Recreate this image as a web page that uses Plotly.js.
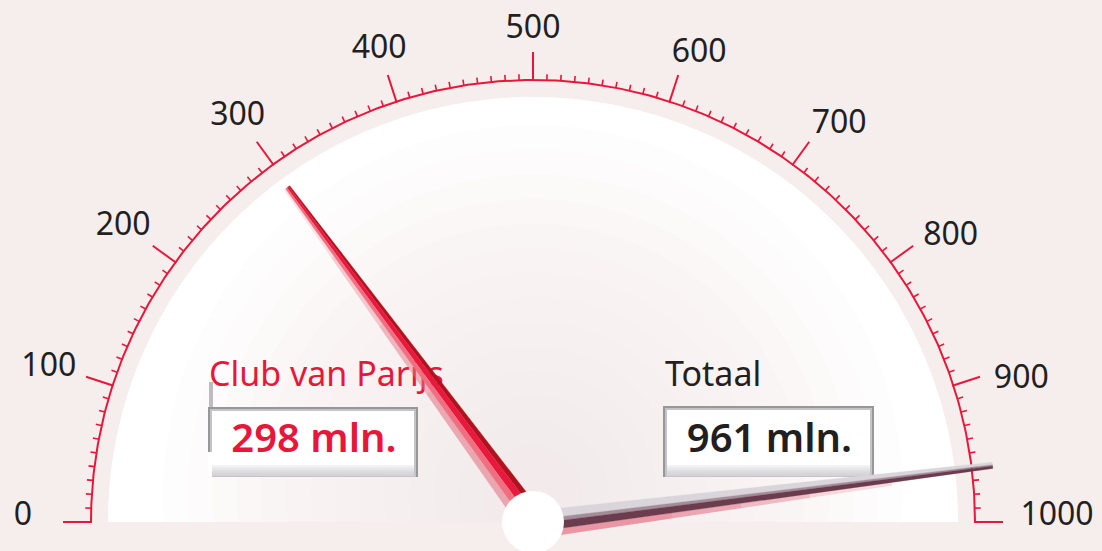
<!DOCTYPE html>
<html>
<head>
<meta charset="utf-8">
<script src="https://cdn.plot.ly/plotly-3.0.1.min.js"></script>
<style>
html,body{margin:0;padding:0;background:#f6eeed;}
#chart{width:1102px;height:551px;}
</style>
</head>
<body>
<div id="chart"></div>
<script>
// ---- data ----
const gaugeMin = 0;
const gaugeMax = 1000;
const majorTicks = [0, 100, 200, 300, 400, 500, 600, 700, 800, 900, 1000];
const majorTickLabels = ['0', '100', '200', '300', '400', '500', '600', '700', '800', '900', '1000'];
const minorStep = 10;
const seriesNames = ['Club van Parijs', 'Totaal'];
const seriesValues = [298, 961];
const valueUnit = ' mln.';

// ---- geometry / style ----
const BG = '#f6eeed';
const RED = '#e8173a';
const DARK = '#231f20';
const FONT = 'Noto Sans, Open Sans, sans-serif';
const CX = 533, CY = 522;
const R_ARC = 442, R_FACE = 425, MAJOR_LEN = 28, MINOR_LEN = 6;

function ang(v) { return Math.PI * (1 - (v - gaugeMin) / (gaugeMax - gaugeMin)); }
function polar(a, r) { return [CX + r * Math.cos(a), CY - r * Math.sin(a)]; }
function pathFrom(pts) {
  return 'M' + pts.map(p => p[0].toFixed(2) + ',' + p[1].toFixed(2)).join(' L') + ' Z';
}

const shapes = [];
// face (white semicircle)
const facePts = [];
for (let i = 0; i <= 180; i++) facePts.push(polar(Math.PI * i / 180, R_FACE));
shapes.push({type: 'path', xref: 'x', yref: 'y', layer: 'below', path: pathFrom(facePts),
  fillcolor: '#ffffff', line: {width: 0}});
// soft radial tint
const GCX = 533, GCY = 495, nLayers = 14;
for (let k = 0; k < nLayers; k++) {
  const r = 370 - k * (320 / (nLayers - 1));
  const pts = [];
  for (let i = 0; i < 120; i++) {
    const a = 2 * Math.PI * i / 120;
    pts.push([GCX + r * Math.cos(a), Math.min(CY, GCY - r * Math.sin(a))]);
  }
  shapes.push({type: 'path', xref: 'x', yref: 'y', layer: 'below', path: pathFrom(pts),
    fillcolor: 'rgba(240,225,224,0.08)', line: {width: 0}});
}

// value boxes
const boxes = [
  {x0: 208, x1: 418, y0: 407, y1: 477},
  {x0: 663, x1: 874, y0: 406, y1: 477}
];
boxes.forEach((b, i) => {
  shapes.push({type: 'rect', xref: 'x', yref: 'y', layer: 'below', x0: b.x0, x1: b.x1, y0: b.y0, y1: b.y1,
    fillcolor: '#97979a', line: {width: 0}});
  shapes.push({type: 'rect', xref: 'x', yref: 'y', layer: 'below', x0: b.x0 + 2, x1: b.x1 - 2, y0: b.y0 + 2, y1: b.y1,
    fillcolor: '#c4c4c7', line: {width: 0}});
  shapes.push({type: 'rect', xref: 'x', yref: 'y', layer: 'below', x0: b.x0 + 4, x1: b.x1 - 4, y0: b.y0 + 4, y1: b.y1 - 1,
    fillcolor: '#ffffff', line: {width: 0}});
  for (let j = 0; j < 5; j++) {
    shapes.push({type: 'rect', xref: 'x', yref: 'y', layer: 'below', x0: b.x0 + 4, x1: b.x1 - 4,
      y0: b.y1 - 12 + j * 2.2, y1: b.y1 - 1, fillcolor: 'rgba(190,190,196,0.18)', line: {width: 0}});
  }
  if (i === 0) {
    shapes.push({type: 'rect', xref: 'x', yref: 'y', layer: 'below', x0: b.x0 + 1, x1: b.x0 + 5, y0: b.y0 - 25, y1: b.y0,
      fillcolor: '#bdbdc0', line: {width: 0}});
    shapes.push({type: 'rect', xref: 'x', yref: 'y', layer: 'below', x0: b.x0, x1: b.x0 + 4, y0: b.y1 - 25, y1: b.y1,
      fillcolor: '#ffffff', line: {width: 0}});
  }
});

const traces = [];
// arc
const arcX = [], arcY = [];
for (let i = 0; i <= 360; i++) { const p = polar(Math.PI * i / 360, R_ARC); arcX.push(p[0]); arcY.push(p[1]); }
traces.push({x: arcX, y: arcY, mode: 'lines', line: {color: RED, width: 2}, hoverinfo: 'skip'});
// minor ticks
const mnX = [], mnY = [];
for (let v = gaugeMin; v <= gaugeMax; v += minorStep) {
  if (majorTicks.includes(v)) continue;
  const a = ang(v), p0 = polar(a, R_ARC), p1 = polar(a, R_ARC + MINOR_LEN);
  mnX.push(p0[0], p1[0], null); mnY.push(p0[1], p1[1], null);
}
traces.push({x: mnX, y: mnY, mode: 'lines', line: {color: RED, width: 1.6}, hoverinfo: 'skip'});
// major ticks
const mjX = [], mjY = [];
majorTicks.forEach(v => {
  const a = ang(v), p0 = polar(a, R_ARC - 1), p1 = polar(a, R_ARC + MAJOR_LEN);
  mjX.push(p0[0], p1[0], null); mjY.push(p0[1], p1[1], null);
});
traces.push({x: mjX, y: mjY, mode: 'lines', line: {color: RED, width: 2}, hoverinfo: 'skip'});
// tick labels
const tlX = [], tlY = [];
majorTicks.forEach((v, i) => {
  const isEnd = (v === gaugeMin || v === gaugeMax);
  const mid = (gaugeMin + gaugeMax) / 2;
  const a = ang(v) - ((v > mid && !isEnd) ? 1.5 * Math.PI / 180 : 0);
  const c = Math.abs(Math.cos(a));
  const extra = majorTickLabels[i].length > 3 ? 14 * c : 0;
  const r = 492 + 18 * c + extra;
  const p = polar(a, r);
  const lift = isEnd ? 8 : 0;
  tlX.push(p[0]); tlY.push(p[1] - lift + 3 * c);
});
traces.push({x: tlX, y: tlY, mode: 'text', text: majorTickLabels, textposition: 'middle center',
  textfont: {family: FONT, size: 32, color: DARK}, hoverinfo: 'skip'});

// series name labels and values
const nameColors = [RED, DARK];
const nameX = [209, 665];
traces.push({x: nameX, y: [377, 377], mode: 'text', text: seriesNames, textposition: 'middle right',
  textfont: {family: FONT, size: 34, color: nameColors}, hoverinfo: 'skip'});
traces.push({x: boxes.map(b => (b.x0 + b.x1) / 2 + 1), y: boxes.map(b => (b.y0 + b.y1) / 2),
  mode: 'text', text: seriesValues.map(v => v + valueUnit), textposition: 'middle center',
  textfont: {family: FONT, size: 40, color: nameColors, weight: 600}, hoverinfo: 'skip'});

// needles: offsets along the counter-clockwise normal, at the hub; taper scales them at the tip
const needleStyles = [
  {len: 415, taper: 0.27,
   stripes: [[-13, -7.5, '#b1121e'], [-7.5, 0, '#e8193c'], [0, 6.5, '#ee7080']],
   fadeStripe: {a: 6.5, b: 14, color: 'rgba(232,120,136,0.2)', lengths: [1.0, 0.8, 0.6, 0.4]}},
  {len: 463, taper: 0.3,
   stripes: [[2, 11, '#d9d5db'], [-2, 2, '#a38d98'], [-10, -2, '#6b3b4e']],
   fadeStripe: {a: -17, b: -10, color: 'rgba(226,100,122,0.22)', lengths: [0.78, 0.6, 0.45, 0.3]}}
];
function needlePoly(v, len, taper, rEnd, a0, b0) {
  const a = ang(v);
  const u = [Math.cos(a), -Math.sin(a)];
  const n = [-Math.sin(a), -Math.cos(a)];
  const s = 1 - (1 - taper) * rEnd / len;
  const P = (r, off) => [CX + r * u[0] + off * n[0], CY + r * u[1] + off * n[1]];
  const pts = [P(0, a0), P(rEnd, a0 * s), P(rEnd, b0 * s), P(0, b0), P(0, a0)];
  return {x: pts.map(p => p[0]), y: pts.map(p => p[1])};
}
seriesValues.forEach((v, i) => {
  const s = needleStyles[i];
  const f = s.fadeStripe;
  f.lengths.forEach(frac => {
    const poly = needlePoly(v, s.len, s.taper, s.len * frac, f.a, f.b);
    traces.push({x: poly.x, y: poly.y, mode: 'lines', fill: 'toself', fillcolor: f.color,
      line: {width: 0}, hoverinfo: 'skip'});
  });
  s.stripes.forEach(st => {
    const poly = needlePoly(v, s.len, s.taper, s.len, st[0], st[1]);
    traces.push({x: poly.x, y: poly.y, mode: 'lines', fill: 'toself', fillcolor: st[2],
      line: {width: 0.3, color: st[2]}, hoverinfo: 'skip'});
  });
});

// hub
shapes.push({type: 'circle', xref: 'x', yref: 'y', layer: 'above', x0: CX - 31, x1: CX + 31, y0: CY - 31, y1: CY + 31,
  fillcolor: '#ffffff', line: {width: 0}});

const layout = {
  width: 1102, height: 551,
  margin: {l: 0, r: 0, t: 0, b: 0, pad: 0},
  paper_bgcolor: BG, plot_bgcolor: BG,
  showlegend: false,
  xaxis: {range: [0, 1102], visible: false, fixedrange: true},
  yaxis: {range: [551, 0], visible: false, fixedrange: true},
  shapes: shapes
};
Plotly.newPlot('chart', traces, layout, {staticPlot: true, displayModeBar: false});
</script>
</body>
</html>
